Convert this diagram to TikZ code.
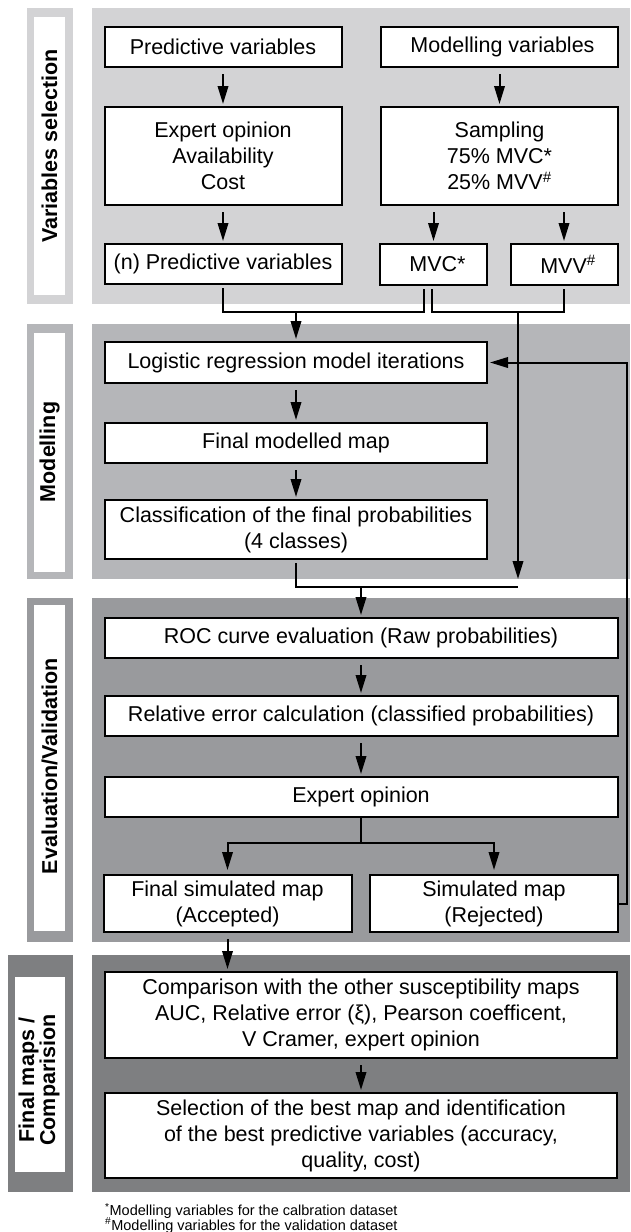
\documentclass[tikz,border=0pt]{standalone}
\usepackage{fontspec}
\setmainfont{Liberation Sans}
\usepackage{xcolor}
\usetikzlibrary{positioning,arrows.meta}

\definecolor{stageA}{RGB}{211,211,213}
\definecolor{stageB}{RGB}{181,182,185}
\definecolor{stageC}{RGB}{153,154,157}
\definecolor{stageD}{RGB}{126,127,129}
\newcommand\notefont{\fontsize{14.5}{14.5}\selectfont\lineskiplimit=-20pt\relax}

\begin{document}
\begin{tikzpicture}[x=1pt,y=-1pt,
    box/.style={draw,line width=2pt,fill=white,align=center,inner sep=0pt,
      font=\fontsize{21.5}{26}\selectfont},
    lbl/.style={rotate=90,align=center,font=\fontsize{21.5}{20}\selectfont\bfseries},
    link/.style={line width=2pt},
    arr/.style={link,-{Triangle[length=18pt,width=10.5pt]},shorten >=2pt},
    loose/.style={shorten <=6pt},
    note/.style={anchor=base west,align=left,inner sep=0pt,font=\notefont}]
  \useasboundingbox (0,0) rectangle (630,1232);

  % stage backgrounds
  \fill[stageA] (26.5,8) rectangle (73,304);
  \fill[white] (34,17) rectangle (65,295);
  \fill[stageA] (92,8) rectangle (630,304);
  \fill[stageB] (26.5,324) rectangle (73,579);
  \fill[white] (34,333) rectangle (65,572);
  \fill[stageB] (92,324) rectangle (630,579);
  \fill[stageC] (26.5,598) rectangle (73,942);
  \fill[white] (34,605) rectangle (65,931);
  \fill[stageC] (92,598) rectangle (630,942);
  \fill[stageD] (8,955) rectangle (73,1192);
  \fill[white] (15,977) rectangle (65,1172);
  \fill[stageD] (92,955) rectangle (630,1192);

  \node[lbl] (labA) at (49.5,146) {Variables selection};
  \node[lbl] (labB) at (49.5,452) {Modelling};
  \node[lbl] (labC) at (49.5,766) {Evaluation/Validation};
  \node[lbl] (labD) at (39,1080) {Final maps /\\Comparision};

  % variables selection
  \node[box,minimum width=237pt,minimum height=40pt] (pv) at (223,47) {Predictive variables};
  \node[box,minimum width=237pt,minimum height=40pt] (mv) at (499.5,47) {\hspace{6pt}Modelling variables};
  \node[box,minimum width=237pt,minimum height=98pt] (eo) at (223,156) {Expert opinion\\Availability\\Cost};
  \node[box,minimum width=237pt,minimum height=98pt] (samp) at (499.5,156) {Sampling\\75\% MVC*\\25\% MVV\textsuperscript{\#}};
  \node[box,minimum width=237pt,minimum height=40pt] (npv) at (223,264) {(n) Predictive variables};
  \node[box,minimum width=107pt,minimum height=41pt] (mvc) at (433.5,264.5) {\hspace{8pt}MVC*};
  \node[box,minimum width=107pt,minimum height=41pt] (mvv) at (564,264.5) {\hspace{8pt}MVV\textsuperscript{\#}};

  % modelling
  \node[box,minimum width=382pt,minimum height=41pt] (lr) at (296,362.5) {Logistic regression model iterations};
  \node[box,minimum width=382pt,minimum height=40pt] (fmm) at (296,443) {Final modelled map};
  \node[box,minimum width=382pt,minimum height=59pt] (cls) at (296,529.5) {Classification of the final probabilities\\(4 classes)};

  % evaluation / validation
  \node[box,minimum width=513pt,minimum height=40pt] (roc) at (361,638) {ROC curve evaluation (Raw probabilities)};
  \node[box,minimum width=513pt,minimum height=40pt] (rel) at (361,716) {Relative error calculation (classified probabilities)};
  \node[box,minimum width=513pt,minimum height=40pt] (exp) at (361,797) {Expert opinion};
  \node[box,minimum width=248pt,minimum height=57pt] (fsm) at (227.5,903.5) {Final simulated map\\(Accepted)};
  \node[box,minimum width=248pt,minimum height=57pt] (sm) at (494,903.5) {Simulated map\\(Rejected)};

  % final maps / comparision
  \node[box,minimum width=512pt,minimum height=86pt] (cmp) at (361,1015) {Comparison with the other susceptibility maps\\AUC, Relative error (ξ), Pearson coefficent,\\V Cramer, expert opinion};
  \node[box,minimum width=512pt,minimum height=85pt] (sel) at (361,1135.5) {Selection of the best map and identification\\of the best predictive variables (accuracy,\\quality, cost)};

  \node[note] (fn) at (105,1230) {\textsuperscript{*}Modelling variables for the calbration dataset\\\textsuperscript{\#}Modelling variables for the validation dataset};

  % junctions
  \coordinate (j1) at (296,312);
  \coordinate (j2) at (518,312);
  \coordinate (j3) at (518,587);
  \coordinate (j4) at (361,587);
  \coordinate (j5) at (361,843);
  \coordinate (fb) at (627,362.5);

  \draw[arr,loose] (pv) -- (eo);
  \draw[arr,loose] (mv) -- (samp);
  \draw[arr,loose] (eo) -- (npv);
  \draw[arr,loose] (samp.south -| mvc) -- (mvc);
  \draw[arr,loose] (samp.south -| mvv) -- (mvv);
  \draw[link,shorten <=3pt,shorten >=3pt] (npv.south) |- (j1) -| ([xshift=-9.5pt]mvc.south);
  \draw[link,shorten <=3pt,shorten >=3pt] ([xshift=-1.5pt]mvc.south) |- (j2) -| (mvv.south);
  \draw[arr] (j1) -- (lr);
  \draw[arr,shorten >=8pt] (j2) -- (j3);
  \draw[arr,loose] (lr) -- (fmm);
  \draw[arr,loose] (fmm) -- (cls);
  \draw[link,shorten <=3pt] (cls.south) |- (j3);
  \draw[arr] (j4) -- (roc);
  \draw[arr,loose] (roc) -- (rel);
  \draw[arr,loose] (rel) -- (exp);
  \draw[link] (exp) -- (j5);
  \draw[arr,shorten >=4pt] (j5) -| (fsm);
  \draw[arr,shorten >=4pt] (j5) -| (sm);
  \draw[arr] (sm.east) -| (fb) -- (lr.east);
  \draw[arr,loose] (fsm.south) -- (fsm.south |- cmp.north);
  \draw[arr,loose] (cmp) -- (sel);
\end{tikzpicture}
\end{document}
